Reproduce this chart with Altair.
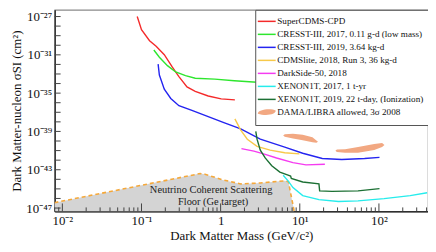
import altair as alt
import pandas as pd
import numpy as np

# ---------------- data (log10 values) ----------------
SERIES = [
    "SuperCDMS-CPD",
    "CRESST-III, 2017, 0.11 g-d (low mass)",
    "CRESST-III, 2019, 3.64 kg-d",
    "CDMSlite, 2018, Run 3, 36 kg-d",
    "DarkSide-50, 2018",
    "XENON1T, 2017, 1 t-yr",
    "XENON1T, 2019, 22 t-day, (Ionization)",
    "DAMA/LIBRA allowed, 3σ 2008",
]
COLORS = ["#f42a2a", "#2ee62e", "#2424f0", "#f7c94a", "#f53cf0", "#26ecec", "#1c7034", "#f2a882"]

RED_LX = [-1.054, -1.0, -0.898, -0.815, -0.712, -0.610, -0.527, -0.425, -0.321, -0.157, 0.007, 0.180]
RED_LY = [-27.0, -28.37, -29.52, -30.11, -30.99, -32.29, -33.27, -34.35, -34.81, -35.30, -35.60, -35.70]

GREEN_LX = [-0.844, -0.774, -0.672, -0.568, -0.444, -0.321, -0.074, 0.173, 0.411, 0.65]
GREEN_LY = [-30.50, -31.25, -32.13, -32.79, -33.18, -33.44, -33.54, -33.70, -33.83, -33.95]

BLUE_LX = [-0.790, -0.774, -0.712, -0.630, -0.527, -0.363, -0.157, 0.049, 0.254, 0.501, 0.810,
           1.037, 1.284, 1.531, 1.819, 2.007]
BLUE_LY = [-31.97, -33.11, -34.58, -35.56, -36.31, -36.80, -37.46, -38.11, -38.74, -39.81, -40.63,
           -41.28, -41.83, -41.93, -41.83, -41.71]

YELLOW_LX = [0.180, 0.254, 0.337, 0.460, 0.625, 0.810, 0.995]
YELLOW_LY = [-37.69, -38.86, -39.81, -40.56, -40.95, -41.22, -41.34]

MAGENTA_LX = [0.263, 0.420, 0.543, 0.707, 0.914, 1.078, 1.317]
MAGENTA_LY = [-40.79, -41.05, -41.34, -41.77, -42.26, -42.49, -42.42]

CYAN_LX = [0.790, 0.852, 0.914, 1.037, 1.242, 1.489, 1.736, 2.065, 2.395, 2.609]
CYAN_LY = [-43.57, -44.16, -44.87, -45.70, -46.12, -46.31, -46.25, -46.02, -45.70, -45.40]

DKGREEN_LX = [0.444, 0.460, 0.501, 0.563, 0.646, 0.748, 0.852, 0.884, 0.893, 1.037, 1.242, 1.251,
              1.407, 1.736, 2.007]
DKGREEN_LY = [-38.99, -39.81, -40.95, -41.77, -42.59, -43.25, -43.57, -43.67, -43.91, -44.28, -44.48,
              -45.21, -45.26, -45.21, -44.97]

DAMA1_LX = [0.79, 0.81, 0.914, 1.037, 1.16, 1.21, 1.23]
DAMA1_LO = [-39.42, -39.55, -39.75, -39.91, -40.14, -40.17, -40.08]
DAMA1_HI = [-39.42, -39.30, -39.25, -39.35, -39.62, -39.94, -40.08]

DAMA2_LX = [1.45, 1.469, 1.572, 1.736, 1.941, 2.04, 2.07]
DAMA2_LO = [-41.02, -41.15, -41.22, -41.22, -40.95, -40.63, -40.42]
DAMA2_HI = [-41.02, -40.89, -40.85, -40.63, -40.30, -40.21, -40.42]

FLOOR_LX = [-2.10, -0.259, -0.198, 0.028, 0.254, 0.501, 0.81, 0.856, 0.93]
FLOOR_LY = [-46.44, -43.40, -43.47, -44.06, -44.48, -44.38, -44.16, -44.25, -47.35]

FLOOR_TEXT = ["Neutrino Coherent Scattering", "Floor (Ge target)"]
FLOOR_TEXT_LX = [-0.12, -0.095]
FLOOR_TEXT_LY = [-45.14, -46.41]

X_DOMAIN_LOG = [-2.097, 2.62]
Y_DOMAIN_LOG = [-47.35, -26.3]
X_MAJOR_EXP = [-2, -1, 0, 1, 2]
X_MINOR = [0.008, 0.009] + [m * 10.0 ** e for e in (-2, -1, 0, 1) for m in range(2, 10)] + [200, 300, 400]
Y_MAJOR_EXP = [-27, -31, -35, -39, -43, -47]
Y_TICK_EXP = list(range(-47, -26))

# ---------------- helpers ----------------
SUP = str.maketrans("-0123456789", "⁻⁰¹²³⁴⁵⁶⁷⁸⁹")


def pow_label(e):
    return "1" if e == 0 else "10" + str(e).translate(SUP)


def label_expr(exps):
    obj = ", ".join(f"'{e}': '{pow_label(e)}'" for e in exps)
    return "({" + obj + "})['' + round(log(datum.value) / LN10)]"


curves = [
    (RED_LX, RED_LY), (GREEN_LX, GREEN_LY), (BLUE_LX, BLUE_LY), (YELLOW_LX, YELLOW_LY),
    (MAGENTA_LX, MAGENTA_LY), (CYAN_LX, CYAN_LY), (DKGREEN_LX, DKGREEN_LY),
]
rows = []
for name, (lx, ly) in zip(SERIES, curves):
    for i, (a, b) in enumerate(zip(lx, ly)):
        rows.append({"series": name, "idx": i, "mass": 10 ** a, "sigma": 10 ** b})
lines_df = pd.DataFrame(rows)

dama_rows = []
for blob, (lx, lo, hi) in enumerate([(DAMA1_LX, DAMA1_LO, DAMA1_HI), (DAMA2_LX, DAMA2_LO, DAMA2_HI)]):
    for a, b, c in zip(lx, lo, hi):
        dama_rows.append({"blob": blob, "mass": 10 ** a, "lo": 10 ** b, "hi": 10 ** c})
dama_df = pd.DataFrame(dama_rows)

y_bottom = 10 ** Y_DOMAIN_LOG[0]
floor_df = pd.DataFrame({"idx": range(len(FLOOR_LX)),
                         "mass": 10 ** np.array(FLOOR_LX), "sigma": 10 ** np.array(FLOOR_LY),
                         "base": y_bottom})
text_df = pd.DataFrame({"t": FLOOR_TEXT, "mass": 10 ** np.array(FLOOR_TEXT_LX),
                        "sigma": 10 ** np.array(FLOOR_TEXT_LY)})
ytick_df = pd.DataFrame({"v": [10.0 ** e for e in Y_TICK_EXP]})
xmaj_df = pd.DataFrame({"v": [10.0 ** e for e in X_MAJOR_EXP]})
xmin_df = pd.DataFrame({"v": X_MINOR})

# ---------------- layout ----------------
W, H = 376, 203
FONT = "Liberation Serif"

xs = alt.Scale(type="log", domain=[10 ** X_DOMAIN_LOG[0], 10 ** X_DOMAIN_LOG[1]], nice=False)
ys = alt.Scale(type="log", domain=[10 ** Y_DOMAIN_LOG[0], 10 ** Y_DOMAIN_LOG[1]], nice=False)

x_axis = alt.Axis(values=[10.0 ** e for e in X_MAJOR_EXP], labelExpr=label_expr(X_MAJOR_EXP),
                  title="Dark Matter Mass (GeV/c²)", ticks=False, grid=False, labelPadding=3,
                  titlePadding=2, labelFlush=False)
y_axis = alt.Axis(values=[10.0 ** e for e in Y_MAJOR_EXP], labelExpr=label_expr(Y_MAJOR_EXP),
                  title="Dark Matter-nucleon σSI (cm²)", ticks=False, grid=False, labelPadding=3,
                  titlePadding=2, labelFlush=False)

floor_area = alt.Chart(floor_df).mark_area(color="#d4d4d4", clip=True, orient="vertical").encode(
    x=alt.X("mass:Q", scale=xs, axis=x_axis),
    y=alt.Y("sigma:Q", scale=ys, axis=y_axis, stack=None),
    y2="base:Q",
)
floor_line = alt.Chart(floor_df).mark_line(color="#f5a83a", strokeDash=[4, 3], strokeWidth=1.6,
                                           clip=True).encode(
    x=alt.X("mass:Q", scale=xs), y=alt.Y("sigma:Q", scale=ys), order="idx:Q")
floor_text = alt.Chart(text_df).mark_text(font=FONT, fontSize=10.5, color="#222").encode(
    x=alt.X("mass:Q", scale=xs), y=alt.Y("sigma:Q", scale=ys), text="t:N")

dama = alt.Chart(dama_df).mark_area(color=COLORS[7], clip=True).encode(
    x=alt.X("mass:Q", scale=xs), y=alt.Y("lo:Q", scale=ys), y2="hi:Q", detail="blob:N")

DAMA = SERIES[7]
BLOB = "M-1,0.15C-1.05,-0.35,0.55,-0.5,1,-0.2C1.05,0.25,-0.1,0.45,-1,0.15Z"
legend = alt.Legend(
    title=None, orient="none", legendX=W - 174, legendY=0,
    strokeColor="#555", fillColor="white", padding=7, cornerRadius=0,
    symbolType=alt.ExprRef(expr=f"datum.value === '{DAMA}' ? '{BLOB}' : 'stroke'"),
    symbolFillColor=alt.ExprRef(expr=f"datum.value === '{DAMA}' ? '{COLORS[7]}' : 'transparent'"),
    symbolStrokeWidth=alt.ExprRef(expr=f"datum.value === '{DAMA}' ? 0 : 1.5"),
    symbolSize=324, labelFont=FONT, labelFontSize=9.2, labelColor="#111", labelLimit=300,
    labelOffset=6, rowPadding=3.1, symbolOffset=0,
)
lines = alt.Chart(lines_df).mark_line(strokeWidth=1.4, clip=True).encode(
    x=alt.X("mass:Q", scale=xs), y=alt.Y("sigma:Q", scale=ys),
    color=alt.Color("series:N", scale=alt.Scale(domain=SERIES, range=COLORS), legend=legend),
    order="idx:Q",
)

ytick = alt.Chart(ytick_df).mark_rule(color="#444", strokeWidth=1).encode(
    y=alt.Y("v:Q", scale=ys), x=alt.value(0), x2=alt.value(6))
xmaj = alt.Chart(xmaj_df).mark_rule(color="#444", strokeWidth=1).encode(
    x=alt.X("v:Q", scale=xs), y=alt.value(H), y2=alt.value(H - 8))
xmin = alt.Chart(xmin_df).mark_rule(color="#444", strokeWidth=1).encode(
    x=alt.X("v:Q", scale=xs), y=alt.value(H), y2=alt.value(H - 4))

chart = alt.layer(floor_area, floor_line, floor_text, dama, lines, ytick, xmaj, xmin).properties(
    width=W, height=H,
    autosize=alt.AutoSizeParams(type="none"),
    padding={"left": 47, "top": 1, "right": 0, "bottom": 32},
    background="white",
).configure_view(stroke="#8a8a8a", strokeWidth=1.2).configure_axis(
    labelFont=FONT, labelFontSize=13, labelColor="#111", titleFont=FONT, titleFontSize=13,
    titleFontWeight="normal", titleColor="#111", domainColor="#111", domainWidth=1.2,
)

chart.save("out.html", embed_options={"renderer": "svg", "actions": False})
